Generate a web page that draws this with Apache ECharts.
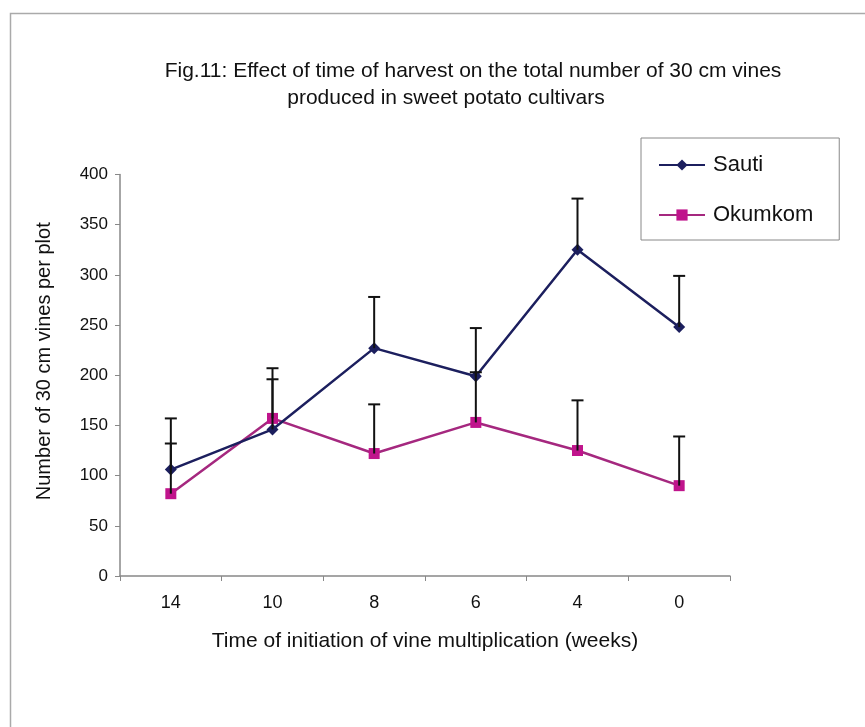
<!DOCTYPE html>
<html>
<head>
<meta charset="utf-8">
<script src="https://cdn.jsdelivr.net/npm/echarts@6/dist/echarts.min.js"></script>
<style>
  html, body { margin: 0; padding: 0; background: #fff; }
  #chart { width: 865px; height: 727px; }
</style>
</head>
<body>
<div id="chart"></div>
<script>
// weeks before harvest
const weeks = ['14', '10', '8', '6', '4', '0'];
const sauti = [106, 146, 227, 199, 325, 248];
const okumkom = [82, 157, 122, 153, 125, 90];
// upper error bar lengths
const sautiErr = [51, 50, 51, 48, 51, 51];
const okumkomErr = [50, 50, 49, 50, 50, 49];
const yTicks = [0, 50, 100, 150, 200, 250, 300, 350, 400];

const narrow = "'Liberation Sans Narrow', 'Liberation Sans', Arial, sans-serif";
const arial = "'Liberation Sans', Arial, sans-serif";

const chart = echarts.init(document.getElementById('chart'));

function errData(vals, errs) {
  return vals.map((v, i) => [i, v, v + errs[i]]);
}

function renderErr(params, api) {
  const lo = api.coord([api.value(0), api.value(1)]);
  const hi = api.coord([api.value(0), api.value(2)]);
  const st = { stroke: '#111', lineWidth: 2 };
  return {
    type: 'group',
    children: [
      { type: 'line', shape: { x1: lo[0], y1: lo[1], x2: hi[0], y2: hi[1] }, style: st },
      { type: 'line', shape: { x1: hi[0] - 6, y1: hi[1], x2: hi[0] + 6, y2: hi[1] }, style: st }
    ]
  };
}

const option = {
  backgroundColor: '#fff',
  animation: false,
  graphic: [
    {
      type: 'rect',
      left: 8, top: 11,
      shape: { width: 900, height: 800 },
      style: { fill: 'none', stroke: '#aaa', lineWidth: 1.5 },
      silent: true
    }
  ],
  title: [
    {
      text: 'Fig.11: Effect of time of harvest on the total number of 30 cm vines',
      left: 468, top: 56, textAlign: 'center',
      textStyle: { fontFamily: narrow, fontSize: 21, fontWeight: 'normal', color: '#111' }
    },
    {
      text: 'produced in sweet potato cultivars',
      left: 441, top: 83, textAlign: 'center',
      textStyle: { fontFamily: narrow, fontSize: 21, fontWeight: 'normal', color: '#111' }
    }
  ],
  legend: {
    orient: 'vertical',
    left: 641, top: 138,
    padding: [16, 26, 14, 17],
    itemGap: 28,
    itemWidth: 46,
    itemHeight: 14,
    borderColor: '#888',
    borderWidth: 1,
    data: ['Sauti', 'Okumkom'],
    textStyle: { fontFamily: arial, fontSize: 22, color: '#111', padding: [0, 0, 0, 3] }
  },
  grid: { left: 120, right: 135, top: 174.5, bottom: 151 },
  xAxis: {
    type: 'category',
    data: weeks,
    boundaryGap: true,
    name: 'Time of initiation of vine multiplication (weeks)',
    nameLocation: 'middle',
    nameGap: 55,
    nameTextStyle: { fontFamily: narrow, fontSize: 21, color: '#111' },
    axisLine: { lineStyle: { color: '#888', width: 1.5 } },
    axisTick: { show: true, alignWithLabel: false, length: 5, lineStyle: { color: '#888' } },
    axisLabel: { fontFamily: narrow, fontSize: 18, color: '#111', margin: 18 }
  },
  yAxis: {
    type: 'value',
    min: yTicks[0],
    max: yTicks[yTicks.length - 1],
    interval: 50,
    name: 'Number of 30 cm vines per plot',
    nameLocation: 'middle',
    nameGap: 66,
    nameTextStyle: { fontFamily: arial, fontSize: 20, color: '#111', padding: [0, 0, 0, 28] },
    axisLine: { show: true, lineStyle: { color: '#888', width: 1.5 } },
    axisTick: { show: true, length: 5, lineStyle: { color: '#888' } },
    axisLabel: { fontFamily: arial, fontSize: 17, color: '#111', margin: 12 },
    splitLine: { show: false }
  },
  series: [
    {
      name: 'Sauti',
      type: 'line',
      data: sauti,
      symbol: 'diamond',
      symbolSize: 12,
      lineStyle: { color: '#1c1f5e', width: 2.5 },
      itemStyle: { color: '#1c1f5e' },
      z: 3
    },
    {
      name: 'Okumkom',
      type: 'line',
      data: okumkom,
      symbol: 'rect',
      symbolSize: 11,
      lineStyle: { color: '#a5287f', width: 2.5 },
      itemStyle: { color: '#c0148c' },
      z: 2
    },
    {
      type: 'custom',
      renderItem: renderErr,
      data: errData(sauti, sautiErr),
      z: 5,
      silent: true
    },
    {
      type: 'custom',
      renderItem: renderErr,
      data: errData(okumkom, okumkomErr),
      z: 5,
      silent: true
    }
  ]
};

chart.setOption(option);
</script>
</body>
</html>
